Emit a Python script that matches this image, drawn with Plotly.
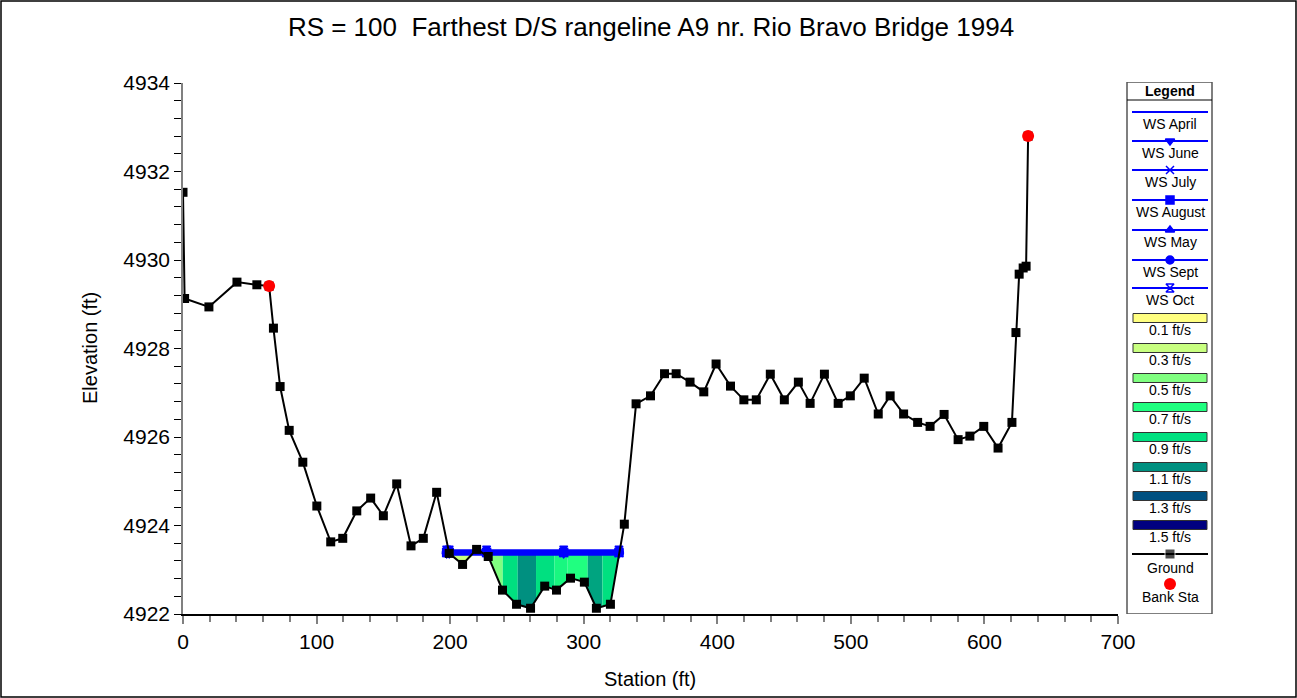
import numpy as np
import plotly.graph_objects as go

# ---- Cross-section data -------------------------------------------------
ground_station = [0.0, 1.2, 19.4, 40.4, 55.3, 64.5, 67.7, 72.7, 79.5, 89.7, 100.2,
                  110.6, 119.6, 130.1, 140.5, 150.0, 160.0, 170.7, 179.9, 189.9, 199.3,
                  209.3, 219.8, 228.5, 239.2, 249.7, 260.2, 270.8, 279.6, 290.1, 300.5,
                  309.5, 320.0, 330.4, 339.2, 350.0, 360.5, 369.2, 379.6, 389.9, 399.1,
                  409.9, 419.9, 429.2, 439.7, 450.2, 460.7, 469.5, 480.2, 490.5, 499.6,
                  510.0, 520.5, 529.4, 539.5, 550.0, 559.3, 569.8, 580.3, 589.1, 599.5,
                  610.2, 620.6, 623.6, 626.0, 629.0, 631.2, 632.7]
ground_elev = [4931.53, 4929.13, 4928.94, 4929.50, 4929.44, 4929.41, 4928.46, 4927.14, 4926.15, 4925.43, 4924.44,
               4923.63, 4923.71, 4924.33, 4924.62, 4924.22, 4924.94, 4923.54, 4923.71, 4924.75, 4923.37,
               4923.12, 4923.46, 4923.30, 4922.54, 4922.22, 4922.13, 4922.63, 4922.54, 4922.81, 4922.72,
               4922.13, 4922.22, 4924.03, 4926.75, 4926.93, 4927.43, 4927.43, 4927.24, 4927.02, 4927.65,
               4927.15, 4926.84, 4926.84, 4927.42, 4926.84, 4927.24, 4926.76, 4927.42, 4926.76, 4926.93,
               4927.33, 4926.52, 4926.93, 4926.52, 4926.33, 4926.24, 4926.51, 4925.94, 4926.02, 4926.24,
               4925.75, 4926.33, 4928.36, 4929.68, 4929.82, 4929.86, 4932.80]

bank_station = [64.5, 632.7]
bank_elev = [4929.41, 4932.80]

# Water surface profiles (same stations, elevation per profile)
ws_station = [197.4, 199.3, 227.3, 285.0, 326.4]
ws_names = ["WS April", "WS June", "WS July", "WS August", "WS May", "WS Sept", "WS Oct"]
ws_elev = [4923.34, 4923.36, 4923.38, 4923.39, 4923.40, 4923.42, 4923.44]
ws_symbols = [None, "triangle-down", "x-thin-open", "square", "triangle-up", "circle", "hourglass-open"]

# Velocity distribution sub-sections (edges in ft, velocity in ft/s)
vel_edges = [197.4, 228.5, 239.4, 250.6, 264.3, 278.0, 288.0, 303.0, 314.0, 326.4]
vel_values = [0.3, 0.5, 0.9, 1.1, 0.9, 0.75, 0.7, 1.05, 0.9]

# Velocity legend classes
vel_class_labels = ["0.1 ft/s", "0.3 ft/s", "0.5 ft/s", "0.7 ft/s", "0.9 ft/s", "1.1 ft/s", "1.3 ft/s", "1.5 ft/s"]
vel_class_values = [0.1, 0.3, 0.5, 0.7, 0.9, 1.1, 1.3, 1.5]
vel_class_colors = ["#ffff80", "#c8ff80", "#80ff80", "#20ff80", "#00e080", "#009080", "#005080", "#000080"]

TITLE = "RS = 100  Farthest D/S rangeline A9 nr. Rio Bravo Bridge 1994"
FONT = "Liberation Sans, Arial, sans-serif"

# ---- Layout geometry (pixels) -------------------------------------------
W, H = 1297, 698
M_L, M_R, M_T, M_B = 183, 84, 82, 84
PW, PH = W - M_L - M_R, H - M_T - M_B
PLOT_RIGHT = 1118
PLOT_TOP = 83
LEG_L, LEG_R, LEG_T, LEG_B = 1127, 1212, 82, 614


def px(x):
    return (x - M_L) / PW


def py(y):
    return (H - M_B - y) / PH


def hex_to_rgb(h):
    h = h.lstrip("#")
    return np.array([int(h[i:i + 2], 16) for i in (0, 2, 4)], dtype=float)


def vel_color(v):
    vals = np.array(vel_class_values)
    rgbs = np.array([hex_to_rgb(c) for c in vel_class_colors])
    c = [np.interp(v, vals, rgbs[:, k]) for k in range(3)]
    return "rgb(%d,%d,%d)" % tuple(int(round(a)) for a in c)


fig = go.Figure()

# Velocity-coloured wetted strips under the water surface
gs = np.array(ground_station)
ge = np.array(ground_elev)
ws_top = ws_elev[3]
for i, v in enumerate(vel_values):
    a, b = vel_edges[i], vel_edges[i + 1]
    inner = gs[(gs > a) & (gs < b)]
    xs = np.concatenate([[a], inner, [b]])
    zs = np.minimum(np.interp(xs, gs, ge), ws_top)
    poly_x = np.concatenate([[a, b], xs[::-1]])
    poly_y = np.concatenate([[ws_top, ws_top], zs[::-1]])
    fig.add_trace(go.Scatter(x=poly_x, y=poly_y, fill="toself", mode="lines",
                             line=dict(width=0), fillcolor=vel_color(v),
                             hoverinfo="skip", showlegend=False))

# Water surface profiles
for name, z, sym in zip(ws_names, ws_elev, ws_symbols):
    mode = "lines" if sym is None else "lines+markers"
    fig.add_trace(go.Scatter(
        x=ws_station, y=[z] * len(ws_station), mode=mode, name=name,
        line=dict(color="#0000ff", width=2),
        marker=dict(symbol=sym or "circle", size=8, color="#0000ff",
                    line=dict(color="#0000ff", width=1.5)),
        showlegend=False))

# Ground
fig.add_trace(go.Scatter(x=ground_station, y=ground_elev, mode="lines+markers", name="Ground",
                         line=dict(color="black", width=2),
                         marker=dict(symbol="square", size=9, color="black"),
                         showlegend=False))

# Bank stations
fig.add_trace(go.Scatter(x=bank_station, y=bank_elev, mode="markers", name="Bank Sta",
                         marker=dict(symbol="circle", size=12, color="#ff0000"),
                         showlegend=False))

# ---- Legend panel drawn on its own pixel-scaled axes --------------------
LX0, LX1, LXC = 1132, 1208, 1170
leg_line_y = [112, 141, 170, 200, 230, 260, 288]
leg_text_dy = 12
annotations = []
shapes = []
LEG_FONT = dict(family=FONT, size=14, color="black")

for name, sym, yy in zip(ws_names, ws_symbols, leg_line_y):
    fig.add_trace(go.Scatter(x=[LX0, LXC, LX1], y=[yy, yy, yy], xaxis="x2", yaxis="y2",
                             mode="lines", line=dict(color="#0000ff", width=2),
                             hoverinfo="skip", showlegend=False))
    if sym is not None:
        fig.add_trace(go.Scatter(x=[LXC], y=[yy], xaxis="x2", yaxis="y2", mode="markers",
                                 marker=dict(symbol=sym, size=8, color="#0000ff",
                                             line=dict(color="#0000ff", width=1.5)),
                                 hoverinfo="skip", showlegend=False))
    annotations.append(dict(x=LXC, y=yy + leg_text_dy, xref="x2", yref="y2", text=name,
                            xanchor="center", yanchor="middle", showarrow=False, font=LEG_FONT))

leg_rect_y = [318, 348, 378, 407, 437, 467, 496, 525]
for lab, col, yy in zip(vel_class_labels, vel_class_colors, leg_rect_y):
    shapes.append(dict(type="rect", xref="x2", yref="y2", x0=1133, x1=1207, y0=yy - 4.5, y1=yy + 4.5,
                       fillcolor=col, line=dict(color="#333333", width=1)))
    annotations.append(dict(x=LXC, y=yy + 11.5, xref="x2", yref="y2", text=lab,
                            xanchor="center", yanchor="middle", showarrow=False, font=LEG_FONT))

fig.add_trace(go.Scatter(x=[LX0, LXC, LX1], y=[554, 554, 554], xaxis="x2", yaxis="y2",
                         mode="lines+markers", line=dict(color="black", width=2),
                         marker=dict(symbol="square", size=[0, 10, 0], color="black"),
                         hoverinfo="skip", showlegend=False))
annotations.append(dict(x=LXC, y=567.5, xref="x2", yref="y2", text="Ground",
                        xanchor="center", yanchor="middle", showarrow=False, font=LEG_FONT))
fig.add_trace(go.Scatter(x=[LXC], y=[584], xaxis="x2", yaxis="y2", mode="markers",
                         marker=dict(symbol="circle", size=12, color="#ff0000"),
                         hoverinfo="skip", showlegend=False))
annotations.append(dict(x=LXC, y=597, xref="x2", yref="y2", text="Bank Sta",
                        xanchor="center", yanchor="middle", showarrow=False, font=LEG_FONT))

# Legend frame and header
shapes.append(dict(type="rect", xref="x2", yref="y2", x0=LEG_L, x1=LEG_R, y0=LEG_T, y1=LEG_B,
                   line=dict(color="#555555", width=1.5), layer="below"))
shapes.append(dict(type="line", xref="x2", yref="y2", x0=LEG_L, x1=LEG_R, y0=100, y1=100,
                   line=dict(color="black", width=1)))
annotations.append(dict(x=LXC, y=91, xref="x2", yref="y2", text="<b>Legend</b>",
                        xanchor="center", yanchor="middle", showarrow=False, font=LEG_FONT))

# Outer frame of the figure
shapes.append(dict(type="rect", xref="paper", yref="paper",
                   x0=px(1), x1=px(W - 1), y0=py(H - 1), y1=py(1),
                   line=dict(color="black", width=1.5)))

# Axis titles
AX_FONT = dict(family=FONT, size=20, color="black")
annotations.append(dict(x=px(650), y=py(679), xref="paper", yref="paper", text="Station (ft)",
                        xanchor="center", yanchor="middle", showarrow=False, font=AX_FONT))
annotations.append(dict(x=px(90), y=py(348), xref="paper", yref="paper", text="Elevation (ft)",
                        xanchor="center", yanchor="middle", textangle=-90, showarrow=False, font=AX_FONT))

fig.update_layout(
    width=W, height=H,
    margin=dict(l=M_L, r=M_R, t=M_T, b=M_B, pad=0),
    paper_bgcolor="white", plot_bgcolor="white",
    font=dict(family=FONT, size=20, color="black"),
    title=dict(text=TITLE, x=651 / W, xanchor="center", xref="container",
               y=1 - 27 / H, yanchor="middle", yref="container",
               font=dict(family=FONT, size=26, color="black")),
    xaxis=dict(domain=[0, px(PLOT_RIGHT)], range=[0, 700], dtick=100, tick0=0,
               showgrid=False, zeroline=False, showline=True, linecolor="black", linewidth=1.5,
               ticks="outside", ticklen=8, tickcolor="#808080", tickwidth=1.5,
               minor=dict(dtick=20, tick0=0, ticks="outside", ticklen=6, tickcolor="#808080", tickwidth=1.5),
               tickfont=dict(family=FONT, size=21, color="black")),
    yaxis=dict(domain=[0, py(PLOT_TOP)], range=[4922, 4934], dtick=2, tick0=4922,
               showgrid=False, zeroline=False, showline=True, linecolor="#808080", linewidth=1.5,
               ticks="outside", ticklen=7, tickcolor="black", tickwidth=1,
               minor=dict(dtick=0.4, tick0=4922, ticks="outside", ticklen=7, tickcolor="black", tickwidth=1),
               tickfont=dict(family=FONT, size=21, color="black")),
    xaxis2=dict(domain=[px(LEG_L - 1), px(LEG_R + 1)], range=[LEG_L - 1, LEG_R + 1], visible=False,
                anchor="y2", fixedrange=True),
    yaxis2=dict(domain=[0, 1], range=[H - M_B, M_T], visible=False, anchor="x2", fixedrange=True),
    shapes=shapes,
    annotations=annotations,
    showlegend=False,
)

fig.write_html("out.html")
